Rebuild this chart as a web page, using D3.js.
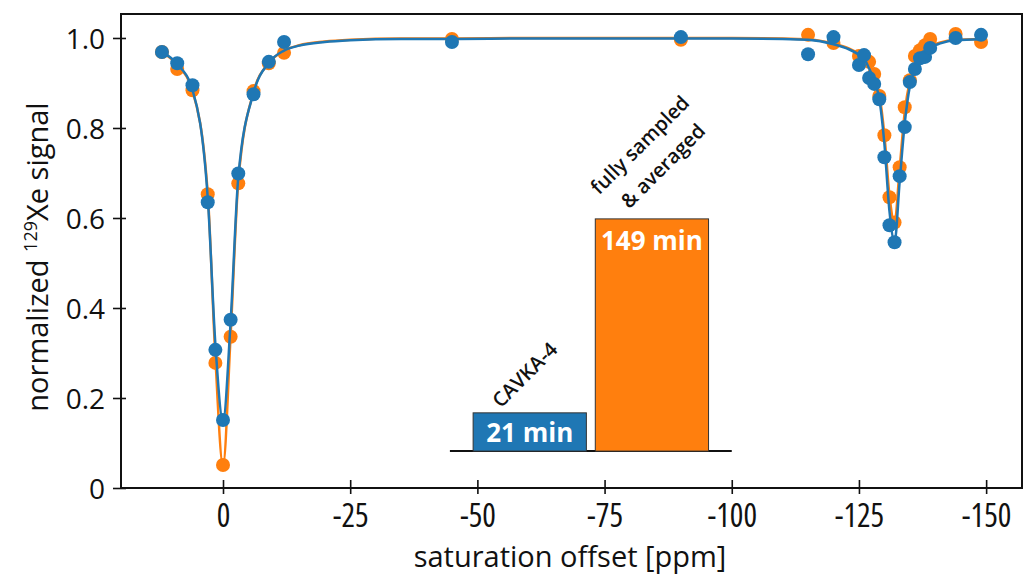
<!DOCTYPE html>
<html lang="en">
<head>
  <meta charset="UTF-8" />
  <title>129Xe saturation spectrum</title>
  <script src="https://d3js.org/d3.v7.min.js"></script>
  <style>
    body {
      margin: 0;
      background: white;
      font-family: "Open Sans", Arial, sans-serif;
    }
    svg { display: block; font-family: "Open Sans", Arial, sans-serif; }
    .tick-label { font-size: 28px; fill: #111; }
    .x-tick { font-size: 32px; font-stretch: condensed; }
    .axis-title { font-size: 29px; fill: #111; }
    .bar-label { font-size: 26px; font-weight: 700; fill: white; }
    .note { font-size: 20px; font-weight: 600; fill: #111; }
  </style>
</head>
<body>
  <svg width="1028" height="575"></svg>
  <script>
    // Saturation offsets (ppm) of the measured points
    const offsets = [12, 9, 6, 3, 1.5, 0, -1.5, -3, -6, -9, -12, -45, -90, -115, -120,
      -125, -126, -127, -128, -129, -130, -131, -132, -133, -134, -135, -136, -137, -138, -139, -144, -149];

    // CAVKA-4 (blue)
    const blueSignal = [0.969, 0.944, 0.895, 0.635, 0.307, 0.151, 0.374, 0.699, 0.875, 0.947, 0.991, 0.991, 1.002, 0.964, 1.002,
      0.940, 0.962, 0.911, 0.898, 0.864, 0.735, 0.584, 0.546, 0.693, 0.802, 0.902, 0.931, 0.955, 0.958, 0.978, 1.000, 1.007];

    // fully sampled & averaged (orange)
    const orangeSignal = [0.969, 0.931, 0.884, 0.653, 0.278, 0.051, 0.336, 0.677, 0.882, 0.944, 0.967, 0.998, 0.996, 1.007, 0.989,
      0.960, 0.955, 0.947, 0.920, 0.871, 0.784, 0.646, 0.590, 0.713, 0.846, 0.906, 0.960, 0.973, 0.984, 0.998, 1.009, 0.991];

    // Fit curves
    const fitOffsets = [12, 9, 6, 3, 1.5, 0, -1.5, -3, -6, -9, -12, -15, -20, -25, -35, -45, -60, -80, -100, -110, -115, -120, -123,
      -125, -126, -127, -128, -129, -130, -131, -132, -133, -134, -135, -136, -137, -138, -139, -141, -144, -149];
    const blueFit = [0.969, 0.942, 0.885, 0.645, 0.32, 0.15, 0.37, 0.69, 0.878, 0.945, 0.972, 0.983, 0.991, 0.995, 0.998, 0.998, 0.999, 0.999, 0.999, 0.998, 0.996, 0.986, 0.975,
      0.963, 0.955, 0.932, 0.905, 0.865, 0.765, 0.615, 0.547, 0.68, 0.81, 0.892, 0.93, 0.953, 0.968, 0.978, 0.988, 0.995, 0.997];
    const orangeFit = [0.969, 0.94, 0.883, 0.655, 0.29, 0.05, 0.34, 0.68, 0.88, 0.944, 0.972, 0.984, 0.992, 0.996, 0.999, 0.999, 1.0, 1.0, 1.0, 0.999, 0.997, 0.987, 0.977,
      0.965, 0.957, 0.937, 0.912, 0.875, 0.785, 0.65, 0.59, 0.71, 0.835, 0.905, 0.94, 0.96, 0.972, 0.981, 0.99, 0.996, 0.998];

    // Inset bar chart (acquisition time)
    const barNames = ["CAVKA-4", "fully sampled & averaged"];
    const barLabels = ["21 min", "149 min"];
    const barTops = [0.167, 0.598];   // in signal units
    const barBase = 0.082;
    const barSpan = [-44.6, -100];    // ppm range of the inset baseline

    const yTicks = [0, 0.2, 0.4, 0.6, 0.8, 1.0];
    const xTicks = [0, -25, -50, -75, -100, -125, -150];

    const blue = "#1f77b4", orange = "#ff7f0e";

    const svg = d3.select("svg");
    const plotL = 121, plotR = 1022, plotT = 14, plotB = 488;

    const x = d3.scaleLinear().domain([20.05, -157.05]).range([plotL, plotR]);
    const y = d3.scaleLinear().domain([0, 1.0533]).range([plotB, plotT]);

    // axes
    const xAxis = svg.append("g")
      .attr("transform", `translate(0,${plotB})`)
      .call(d3.axisBottom(x).tickValues(xTicks).tickSize(6).tickFormat(d => String(d)));
    xAxis.attr("font-family", null).attr("font-size", null);
    xAxis.select(".domain").remove();
    xAxis.selectAll(".tick line").attr("y1", -8).attr("y2", 6).attr("stroke", "#111").attr("stroke-width", 1.6);
    xAxis.selectAll(".tick text").attr("class", "tick-label x-tick").attr("y", 0).attr("dy", 39);

    const yAxis = svg.append("g")
      .attr("transform", `translate(${plotL},0)`)
      .call(d3.axisLeft(y).tickValues(yTicks).tickSize(7).tickFormat(d => d === 0 ? "0" : d3.format(".1f")(d)));
    yAxis.attr("font-family", null).attr("font-size", null);
    yAxis.select(".domain").remove();
    yAxis.selectAll(".tick line").attr("x1", -8).attr("x2", 5).attr("stroke", "#111").attr("stroke-width", 1.6);
    yAxis.selectAll(".tick text").attr("class", "tick-label").attr("x", -16).attr("dy", "0.36em");

    // frame
    svg.append("rect")
      .attr("x", plotL).attr("y", plotT)
      .attr("width", plotR - plotL).attr("height", plotB - plotT)
      .attr("fill", "none").attr("stroke", "#111").attr("stroke-width", 2);

    // inset bars
    const band = d3.scaleBand().domain(barNames)
      .range([x(barSpan[0]), x(barSpan[1])])
      .paddingInner(0.073).paddingOuter(0.19);

    svg.append("line")
      .attr("x1", x(barSpan[0])).attr("x2", x(barSpan[1]))
      .attr("y1", y(barBase)).attr("y2", y(barBase))
      .attr("stroke", "#111").attr("stroke-width", 2);

    svg.selectAll("rect.bar")
      .data(barNames)
      .enter()
      .append("rect")
      .attr("class", "bar")
      .attr("x", d => band(d))
      .attr("width", band.bandwidth())
      .attr("y", (d, i) => y(barTops[i]))
      .attr("height", (d, i) => y(barBase) - y(barTops[i]))
      .attr("fill", (d, i) => i === 0 ? blue : orange)
      .attr("stroke", "#333").attr("stroke-width", 1);

    svg.append("text").attr("class", "bar-label")
      .attr("x", band(barNames[0]) + band.bandwidth() / 2)
      .attr("y", y(barTops[0]) + 29)
      .attr("text-anchor", "middle").text(barLabels[0]);
    svg.append("text").attr("class", "bar-label")
      .attr("x", band(barNames[1]) + band.bandwidth() / 2)
      .attr("y", y(barTops[1]) + 31)
      .attr("text-anchor", "middle").text(barLabels[1]);

    // rotated notes above the bars
    const cav = band(barNames[0]) + band.bandwidth() / 2;
    svg.append("text").attr("class", "note")
      .attr("transform", `translate(${cav - 5},${y(barTops[0]) - 38}) rotate(-45)`)
      .attr("text-anchor", "middle").attr("dy", "0.35em")
      .text("CAVKA-4");
    const full = band(barNames[1]) + band.bandwidth() / 2;
    svg.append("text").attr("class", "note")
      .attr("transform", `translate(${full - 12},${y(barTops[1]) - 74}) rotate(-45)`)
      .attr("text-anchor", "middle").attr("dy", "0.35em")
      .text("fully sampled");
    svg.append("text").attr("class", "note")
      .attr("transform", `translate(${full + 11},${y(barTops[1]) - 53}) rotate(-45)`)
      .attr("text-anchor", "middle").attr("dy", "0.35em")
      .text("& averaged");

    // fit lines and points
    const line = d3.line()
      .x(d => x(d[0]))
      .y(d => y(d[1]))
      .curve(d3.curveMonotoneX);

    function drawSeries(fit, pts, color) {
      svg.append("path")
        .datum(fitOffsets.map((o, i) => [o, fit[i]]))
        .attr("d", line)
        .attr("fill", "none")
        .attr("stroke", color)
        .attr("stroke-width", 2.5);
      svg.append("g").selectAll("circle")
        .data(offsets.map((o, i) => [o, pts[i]]))
        .enter()
        .append("circle")
        .attr("cx", d => x(d[0]))
        .attr("cy", d => y(d[1]))
        .attr("r", 7)
        .attr("fill", color);
    }
    drawSeries(orangeFit, orangeSignal, orange);
    drawSeries(blueFit, blueSignal, blue);

    // axis titles
    svg.append("text").attr("class", "axis-title")
      .attr("x", 570).attr("y", 567)
      .attr("text-anchor", "middle")
      .text("saturation offset [ppm]");

    const yt = svg.append("text").attr("class", "axis-title")
      .attr("transform", "translate(48,257) rotate(-90)")
      .attr("text-anchor", "middle");
    yt.append("tspan").text("normalized ");
    yt.append("tspan").attr("font-size", "18px").attr("dy", "-0.62em").text("129");
    yt.append("tspan").attr("dy", "0.4em").text("Xe signal");
  </script>
</body>
</html>
